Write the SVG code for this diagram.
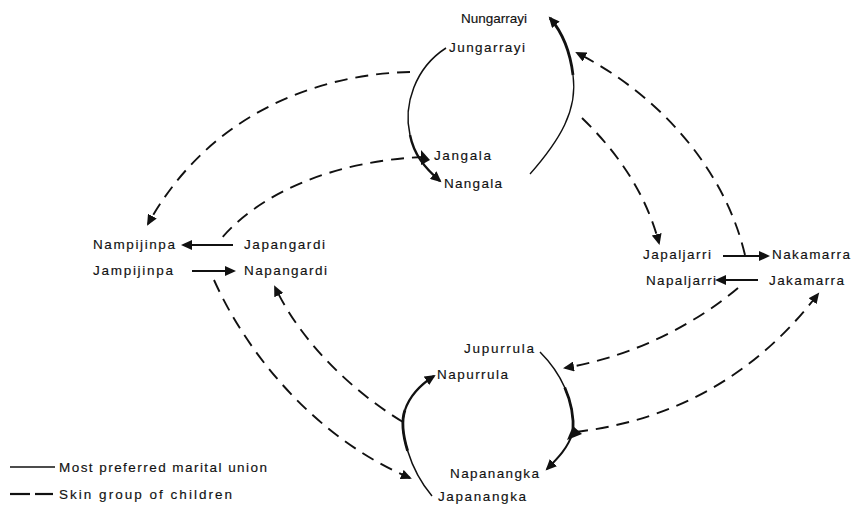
<svg xmlns="http://www.w3.org/2000/svg" width="851" height="505" viewBox="0 0 851 505">
<style>
  .lbl { font-family: "Liberation Sans", Arial, sans-serif; font-size: 13.5px; fill: #111; stroke: #111; stroke-width: 0.15; }
  .solid { fill: none; stroke: #111; stroke-width: 1.5; }
  .dash { fill: none; stroke: #111; stroke-width: 1.9; stroke-dasharray: 13 8; }
  .str { fill: none; stroke: #111; stroke-width: 2; }
</style>
<defs>
  <marker id="ah" markerUnits="userSpaceOnUse" markerWidth="12" markerHeight="10" refX="9" refY="5" orient="auto">
    <path d="M0,0 L11,5 L0,10 z" fill="#111"/>
  </marker>
</defs>
<rect width="851" height="505" fill="#fff"/>

<g id="connectors">
  <!-- solid marital unions (curves) -->
  <path class="solid" d="M446,48 C415,68 403,105 410,135"/>
  <path class="solid" d="M410,135 C414,155 425,168 440,181" style="stroke-width:2.4" marker-end="url(#ah)"/>
  <path d="M421,150 L430,160 L421,165 z" fill="#111"/>

  <path class="solid" d="M530,174 C560,140 578,110 573,75" style="stroke-width:1.3"/>
  <path class="solid" d="M573,75 C570,50 562,32 550,18" style="stroke-width:2.8" marker-end="url(#ah)"/>

  <path class="solid" d="M540,352 C560,372 575,400 573,432"/>
  <path class="solid" d="M564.75,387.5 C570.75,401 574,416 573,432" style="stroke-width:2.8"/>
  <path class="solid" d="M573,432 C568,448 558,458 547,469" style="stroke-width:2" marker-end="url(#ah)"/>
  <path d="M567,440 L573,426 L582,434 z" fill="#111"/>

  <path class="solid" d="M432,496 C410,470 398,430 405,410"/>
  <path class="solid" d="M407.6,450.75 C402.75,435 401.5,420 405,410" style="stroke-width:2.8"/>
  <path class="solid" d="M405,410 C410,395 420,385 434,376" style="stroke-width:2.2" marker-end="url(#ah)"/>

  <!-- straight marital arrows -->
  <path class="str" d="M233,245 L183,245" marker-end="url(#ah)"/>
  <path class="str" d="M192,271 L234,271" marker-end="url(#ah)"/>
  <path class="str" d="M723,256 L768,256" marker-end="url(#ah)"/>
  <path class="str" d="M758,280 L717,280" marker-end="url(#ah)"/>

  <!-- dashed: skin group of children -->
  <path class="dash" d="M410,72 C320,74 210,112 148,224" marker-end="url(#ah)"/>
  <path class="dash" d="M425,157 C340,160 262,190 220,240"/>
  <path class="dash" d="M745,255 C725,170 660,95 577,53" marker-end="url(#ah)"/>
  <path class="dash" d="M582,118 C615,150 645,190 659,243" marker-end="url(#ah)"/>
  <path class="dash" d="M738,288 C700,320 640,355 565,368" marker-end="url(#ah)"/>
  <path class="dash" d="M575,432 C680,420 760,370 818,294" marker-end="url(#ah)"/>
  <path class="dash" d="M403,422 C350,390 300,340 275,287" marker-end="url(#ah)"/>
  <path class="dash" d="M214,280 C250,360 320,440 410,478" marker-end="url(#ah)"/>
</g>

<g id="n-nungarrayi"><text class="lbl" x="461" y="23" textLength="66" lengthAdjust="spacing">Nungarrayi</text></g>
<g id="n-jungarrayi"><text class="lbl" x="449" y="52" textLength="76" lengthAdjust="spacing">Jungarrayi</text></g>
<g id="n-jangala"><text class="lbl" x="434" y="160" textLength="57" lengthAdjust="spacing">Jangala</text></g>
<g id="n-nangala"><text class="lbl" x="444" y="188" textLength="58" lengthAdjust="spacing">Nangala</text></g>
<g id="n-nampijinpa"><text class="lbl" x="93" y="249" textLength="82" lengthAdjust="spacing">Nampijinpa</text></g>
<g id="n-japangardi"><text class="lbl" x="244" y="249" textLength="81" lengthAdjust="spacing">Japangardi</text></g>
<g id="n-jampijinpa"><text class="lbl" x="93" y="275" textLength="80" lengthAdjust="spacing">Jampijinpa</text></g>
<g id="n-napangardi"><text class="lbl" x="244" y="275" textLength="83" lengthAdjust="spacing">Napangardi</text></g>
<g id="n-japaljarri"><text class="lbl" x="643" y="259" textLength="68" lengthAdjust="spacing">Japaljarri</text></g>
<g id="n-nakamarra"><text class="lbl" x="772" y="259" textLength="78" lengthAdjust="spacing">Nakamarra</text></g>
<g id="n-napaljarri"><text class="lbl" x="646" y="285" textLength="70" lengthAdjust="spacing">Napaljarri</text></g>
<g id="n-jakamarra"><text class="lbl" x="769" y="285" textLength="75" lengthAdjust="spacing">Jakamarra</text></g>
<g id="n-jupurrula"><text class="lbl" x="464" y="353" textLength="70" lengthAdjust="spacing">Jupurrula</text></g>
<g id="n-napurrula"><text class="lbl" x="437" y="379" textLength="71" lengthAdjust="spacing">Napurrula</text></g>
<g id="n-napanangka"><text class="lbl" x="450" y="478" textLength="89" lengthAdjust="spacing">Napanangka</text></g>
<g id="n-japanangka"><text class="lbl" x="438" y="501" textLength="88" lengthAdjust="spacing">Japanangka</text></g>

<g id="legend">
  <line x1="10" y1="467" x2="55" y2="467" stroke="#111" stroke-width="1.5"/>
  <text class="lbl" x="59" y="472" textLength="208" lengthAdjust="spacing">Most preferred marital union</text>
  <line x1="10" y1="494" x2="30" y2="494" stroke="#111" stroke-width="2.2"/>
  <line x1="35" y1="494" x2="53" y2="494" stroke="#111" stroke-width="2.2"/>
  <text class="lbl" x="59" y="499" textLength="173" lengthAdjust="spacing">Skin group of children</text>
</g>
</svg>
